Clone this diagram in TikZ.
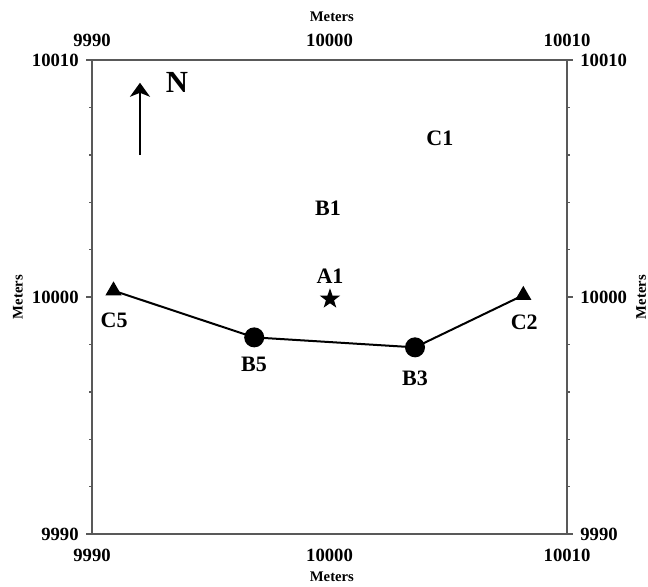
\documentclass[tikz,border=0pt]{standalone}
\usepackage{fontspec}
\setmainfont{Liberation Serif}
\usetikzlibrary{arrows.meta,shapes.geometric}

\tikzset{
  frame/.style={draw=black!65,line width=1.1pt},
  ticklab/.style={font=\fontsize{14}{15}\selectfont\bfseries,inner sep=0pt},
  axlab/.style={font=\fontsize{11}{12}\selectfont\bfseries,inner sep=0pt},
  sitelab/.style={font=\fontsize{16.5}{17}\selectfont\bfseries,inner sep=0pt},
  tri/.style={regular polygon,regular polygon sides=3,fill=black,minimum size=14pt,inner sep=0pt},
  dot/.style={circle,fill=black,minimum size=15pt,inner sep=0pt},
  starmark/.style={star,star points=5,star point ratio=2.5,fill=black,minimum size=16pt,inner sep=0pt},
}

\begin{document}
\begin{tikzpicture}[x=17.8pt,y=17.77pt]
  \useasboundingbox (-3.874,-2.194) rectangle (23.41,22.53);

  % Frame
  \draw[frame] (0,0) rectangle (20,20);

  % Ticks
  \foreach \y in {2,4,...,18} {
    \draw[frame] (0,\y) -- ++(-2.25pt,0);
    \draw[frame] (20,\y) -- ++(2.25pt,0);
  }
  \foreach \y/\lab in {0/9990,10/10000,20/10010} {
    \draw[frame] (0,\y) -- ++(-4.5pt,0);
    \draw[frame] (20,\y) -- ++(4.5pt,0);
    \node[ticklab,anchor=east] (yl\lab) at (-0.55,\y) {\lab};
    \node[ticklab,anchor=west] (yr\lab) at (20.55,\y) {\lab};
  }
  \foreach \x/\lab in {0/9990,10/10000,20/10010} {
    \node[ticklab] (xt\lab) at (\x,20.84) {\lab};
    \node[ticklab] (xb\lab) at (\x,-0.886) {\lab};
  }

  % Axis titles
  \node[axlab] (ttop) at (10.1,21.81) {Meters};
  \node[axlab] (tbot) at (10.1,-1.81) {Meters};
  \node[axlab,rotate=90] (tleft) at (-3.12,10) {Meters};
  \node[axlab,rotate=90] (tright) at (23.12,10) {Meters};

  % North arrow
  \coordinate (ntail) at (2.02,15.99);
  \coordinate (nhead) at (2.02,19.04);
  \draw[line width=1.8pt,-{Stealth[length=10.5pt,width=15pt,inset=3pt]}] (ntail) -- (nhead);
  \node[font=\fontsize{23}{24}\selectfont\bfseries,inner sep=0pt] (N) at (3.58,19.05) {N};

  % Sites
  \node[tri] (C5) at (0.905,10.27) {};
  \node[dot] (B5) at (6.83,8.30) {};
  \node[starmark] (A1) at (10.02,9.92) {};
  \node[dot] (B3) at (13.6,7.88) {};
  \node[tri] (C2) at (18.16,10.08) {};
  \draw[line width=1.5pt] (C5.center) -- (B5.center) -- (B3.center) -- (C2.center);

  % Site labels
  \node[sitelab] (lC5) at (0.93,9.01) {C5};
  \node[sitelab] (lB5) at (6.82,7.15) {B5};
  \node[sitelab] (lA1) at (10.02,10.87) {A1};
  \node[sitelab] (lB3) at (13.6,6.58) {B3};
  \node[sitelab] (lC2) at (18.2,8.92) {C2};
  \node[sitelab] (lB1) at (9.94,13.76) {B1};
  \node[sitelab] (lC1) at (14.65,16.71) {C1};
\end{tikzpicture}
\end{document}
